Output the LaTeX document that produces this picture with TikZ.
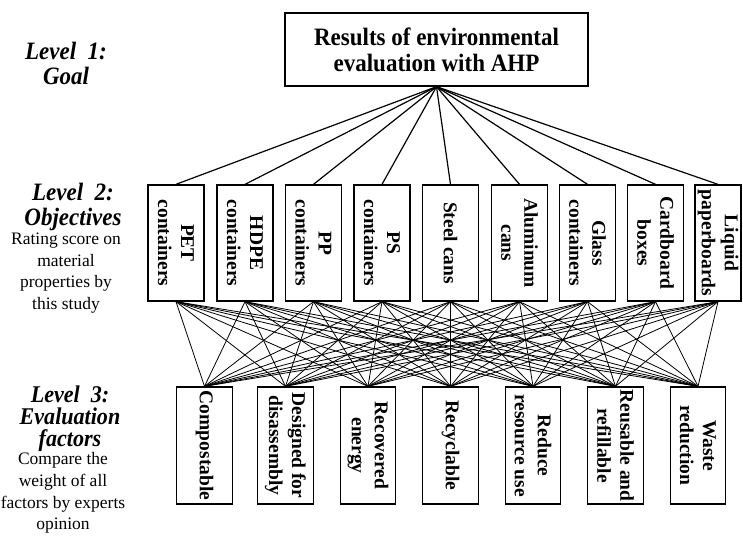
\documentclass[tikz,border=0pt]{standalone}
\usepackage{fontspec}
\setmainfont{Liberation Serif}
\newfontfamily\headfont[FakeStretch=0.92]{Liberation Serif}

\begin{document}
\begin{tikzpicture}[x=1pt, y=-1pt,
    goalbox/.style={draw, line width=1.3pt, minimum width=303pt, minimum height=73pt, align=center, font=\headfont\bfseries\fontsize{25}{26}\selectfont},
    objbox/.style={draw, line width=1.3pt, rotate=-90, inner sep=0pt, align=center, minimum width=116pt, minimum height=56pt, font=\bfseries\fontsize{19.5}{23}\selectfont},
    factbox/.style={objbox, minimum width=117pt, minimum height=55.5pt},
    leveltitle/.style={align=center, font=\headfont\bfseries\itshape\fontsize{25}{25}\selectfont},
    levelnote/.style={align=center, font=\fontsize{17.5}{21.7}\selectfont},
    goalline/.style={line width=1.2pt},
    factline/.style={line width=0.8pt}]
                    \useasboundingbox (0,0) rectangle (743,544);
                    \node[goalbox] (goal) at (436.5,49.5) {Results of environmental\\evaluation with AHP};
                    \node[objbox] (pet) at (176,243) {PET\\containers};
                    \node[objbox] (hdpe) at (245,243) {HDPE\\containers};
                    \node[objbox] (pp) at (313.5,243) {PP\\containers};
                    \node[objbox] (ps) at (382,243) {PS\\containers};
                    \node[objbox] (steel) at (450.5,243) {Steel cans};
                    \node[objbox] (alu) at (519.5,243) {Aluminum\\cans};
                    \node[objbox] (glass) at (587.5,243) {Glass\\containers};
                    \node[objbox] (card) at (655.5,243) {Cardboard\\boxes};
                    \node[objbox, minimum height=46pt] (liquid) at (718,243) {Liquid\\paperboards};
                    \node[factbox] (comp) at (204.5,445.5) {Compostable};
                    \node[factbox] (dfd) at (285.5,445.5) {Designed for\\disassembly};
                    \node[factbox] (recov) at (368,445.5) {Recovered\\energy};
                    \node[factbox] (recyc) at (450.5,445.5) {Recyclable};
                    \node[factbox] (reduce) at (533,445.5) {Reduce\\resource use};
                    \node[factbox] (reuse) at (615.5,445.5) {Reusable and\\refillable};
                    \node[factbox] (waste) at (698,445.5) {Waste\\reduction};
                    \node[leveltitle] (lvone) at (66,63) {Level~~1:\\Goal};
                    \node[leveltitle] (lvtwo) at (73,207) {Level~~2:\\Objectives};
                    \node[levelnote] (notetwo) at (66,273) {Rating score on\\material\\properties by\\this study};
                    \node[leveltitle, font=\headfont\bfseries\itshape\fontsize{24}{22}\selectfont] (lvthree) at (70,419) {Level~~3:\\Evaluation\\factors};
                    \node[levelnote] (notethree) at (63,493) {Compare the\\weight of all\\factors by experts\\opinion};
                    \foreach \o in {pet,hdpe,pp,ps,steel,alu,glass,card,liquid}
                        \draw[goalline] (goal.south) -- (\o.west);
                    \foreach \o in {pet,hdpe,pp,ps,steel,alu,glass,card,liquid}
                        \foreach \f in {comp,dfd,recov,recyc,reduce,reuse,waste}
                            \draw[factline] (\o.east) -- (\f.west);
                \end{tikzpicture}
\end{document}
